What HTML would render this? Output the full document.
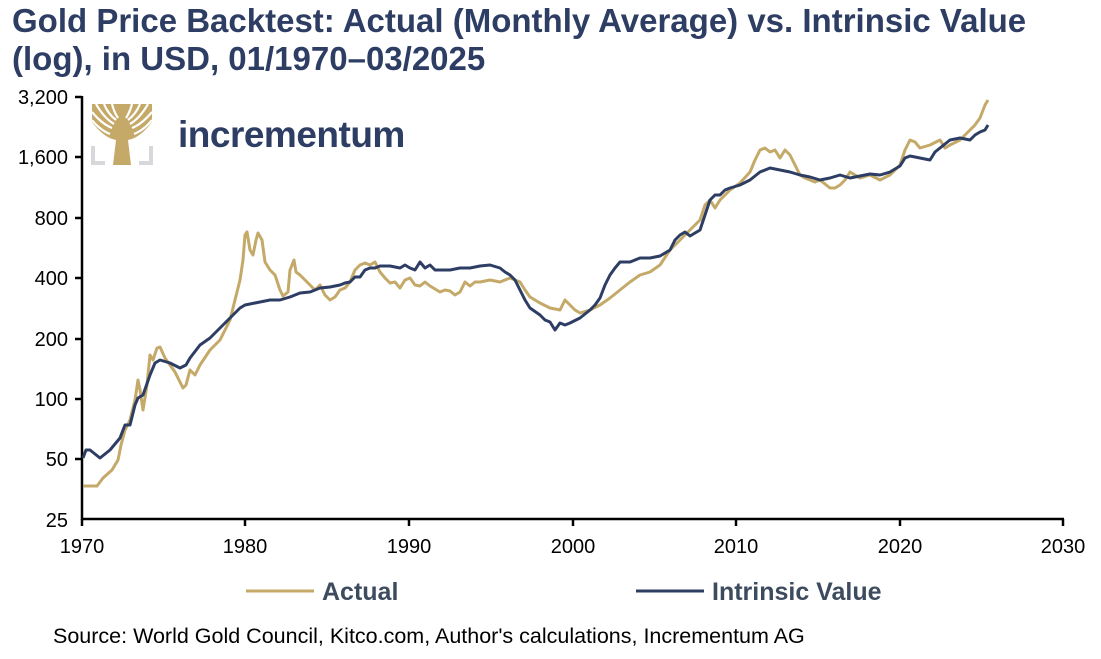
<!DOCTYPE html>
<html><head><meta charset="utf-8"><style>
body{margin:0;background:#fff;width:1101px;height:659px;overflow:hidden;font-family:"Liberation Sans",Arial,sans-serif}
.t{position:absolute;left:12px;top:2px;font-size:33px;font-weight:bold;color:#2d3d63;line-height:38px;white-space:nowrap}
</style></head><body>
<div class="t">Gold Price Backtest: Actual (Monthly Average) vs. Intrinsic Value<br>(log), in USD, 01/1970–03/2025</div>
<svg width="1101" height="659" style="position:absolute;left:0;top:0">
<g font-size="20" fill="#000" text-anchor="end">
<text x="68" y="104">3,200</text><text x="68" y="164">1,600</text><text x="68" y="225">800</text><text x="68" y="285">400</text><text x="68" y="346">200</text><text x="68" y="406">100</text><text x="68" y="466">50</text><text x="68" y="527">25</text>
</g>
<g font-size="20" text-anchor="middle">
<text x="82" y="553">1970</text><text x="245" y="553">1980</text><text x="409" y="553">1990</text><text x="573" y="553">2000</text><text x="736" y="553">2010</text><text x="900" y="553">2020</text><text x="1063" y="553">2030</text>
</g>
<g stroke="#000" stroke-width="2.5">
<line x1="82" y1="96" x2="82" y2="520"/><line x1="81" y1="519" x2="1064" y2="519"/>
<line x1="75" y1="97" x2="82" y2="97"/><line x1="75" y1="157" x2="82" y2="157"/><line x1="75" y1="218" x2="82" y2="218"/><line x1="75" y1="278" x2="82" y2="278"/><line x1="75" y1="339" x2="82" y2="339"/><line x1="75" y1="399" x2="82" y2="399"/><line x1="75" y1="459" x2="82" y2="459"/>
<line x1="245" y1="519" x2="245" y2="526"/><line x1="409" y1="519" x2="409" y2="526"/><line x1="573" y1="519" x2="573" y2="526"/><line x1="736" y1="519" x2="736" y2="526"/><line x1="900" y1="519" x2="900" y2="526"/><line x1="1063" y1="519" x2="1063" y2="526"/><line x1="82" y1="519" x2="82" y2="526"/>
</g>
<g>
<path d="M93 146v17h12M151 146v17h-12" stroke="#d8d8dc" stroke-width="4" fill="none"/>
<path d="M92 104 H152 V122 Q140 138 128 140 L131 165 H113 L116 140 Q104 138 92 122 Z" fill="#c4a969"/>
<path d="M96 104 Q104 118 114 124 M104 104 Q108 114 116 120 M112 104 Q114 112 118 118 M132 104 Q130 112 126 118 M140 104 Q136 114 128 120 M148 104 Q140 118 130 124 M92 112 Q102 124 112 128 M152 112 Q142 124 132 128 M92 120 Q100 130 110 134 M152 120 Q144 130 134 134" stroke="#fff" stroke-width="2.2" fill="none"/>
<text x="178" y="147" font-size="37" font-weight="bold" fill="#2d3d63" letter-spacing="-0.5">incrementum</text>
</g>
<polyline fill="none" stroke="#c4a969" stroke-width="3" stroke-linejoin="round" points="83,486 97,486 103,478 112,470 118,460 121,445 125,430 130,420 135,400 138,380 140,390 143,410 147,385 150,355 153,360 157,348 160,347 165,358 170,365 175,372 183,388 186,385 190,370 195,375 200,365 210,350 220,340 230,320 235,300 240,280 243,260 245,235 247,232 250,250 253,255 256,240 258,233 262,240 265,262 270,270 275,275 280,290 283,296 288,292 290,270 294,260 296,272 300,275 305,280 310,285 315,290 320,285 325,295 330,300 335,297 340,290 345,288 350,282 355,270 360,265 365,263 370,265 375,262 380,272 385,278 390,283 395,282 400,288 405,280 410,278 415,285 420,286 425,282 430,286 435,289 440,292 445,290 450,291 455,295 460,292 465,282 470,286 475,282 480,282 490,280 500,282 510,278 520,282 525,290 530,297 540,303 550,308 560,310 565,300 570,305 575,310 580,313 590,310 600,305 610,298 620,290 630,282 640,275 650,272 660,265 670,250 680,240 690,230 700,220 705,205 710,200 715,208 720,200 725,195 730,190 740,183 750,172 755,160 760,150 765,148 770,152 775,150 780,158 785,150 790,155 795,165 800,175 805,178 815,182 820,180 830,188 835,188 840,185 845,180 850,172 860,178 870,175 880,180 890,175 900,165 905,150 910,140 915,142 920,148 930,145 940,140 945,148 950,145 960,140 970,130 975,125 980,118 985,105 988,100"/>
<polyline fill="none" stroke="#2d3d63" stroke-width="3" stroke-linejoin="round" points="83,458 86,450 90,450 100,458 110,450 120,438 125,425 130,425 135,405 138,398 143,395 150,375 155,363 160,360 170,363 180,368 186,365 190,358 200,345 210,338 220,328 230,318 240,308 245,305 255,303 270,300 280,300 290,297 300,293 310,292 320,288 330,287 340,285 345,283 350,282 355,277 360,277 365,270 370,268 375,268 380,266 390,266 400,268 405,265 410,268 415,270 420,262 425,268 430,265 435,270 440,270 450,270 460,268 470,268 480,266 490,265 500,268 505,272 510,275 515,280 520,290 525,300 530,308 540,315 545,320 550,322 555,330 560,323 565,325 570,323 580,318 590,310 595,305 600,298 605,285 610,275 615,268 620,262 630,262 640,258 650,258 660,256 670,250 675,240 680,235 685,232 690,236 700,230 710,200 715,195 720,195 725,190 730,188 740,185 750,180 760,172 770,168 780,170 790,172 800,175 810,177 820,180 830,178 840,175 850,178 860,176 870,174 880,175 890,172 900,166 905,158 910,156 920,158 930,160 935,152 940,148 950,140 960,138 970,140 975,135 980,132 985,130 988,125"/>
<line x1="246" y1="591" x2="314" y2="591" stroke="#c4a969" stroke-width="3"/>
<line x1="636" y1="591" x2="704" y2="591" stroke="#2d3d63" stroke-width="3"/>
<g font-size="25" font-weight="bold" fill="#3d4b5e"><text x="322" y="600">Actual</text><text x="712" y="600">Intrinsic Value</text></g>
<text x="53" y="643" font-size="21.5" fill="#000">Source: World Gold Council, Kitco.com, Author's calculations, Incrementum AG</text>
</svg>
</body></html>
